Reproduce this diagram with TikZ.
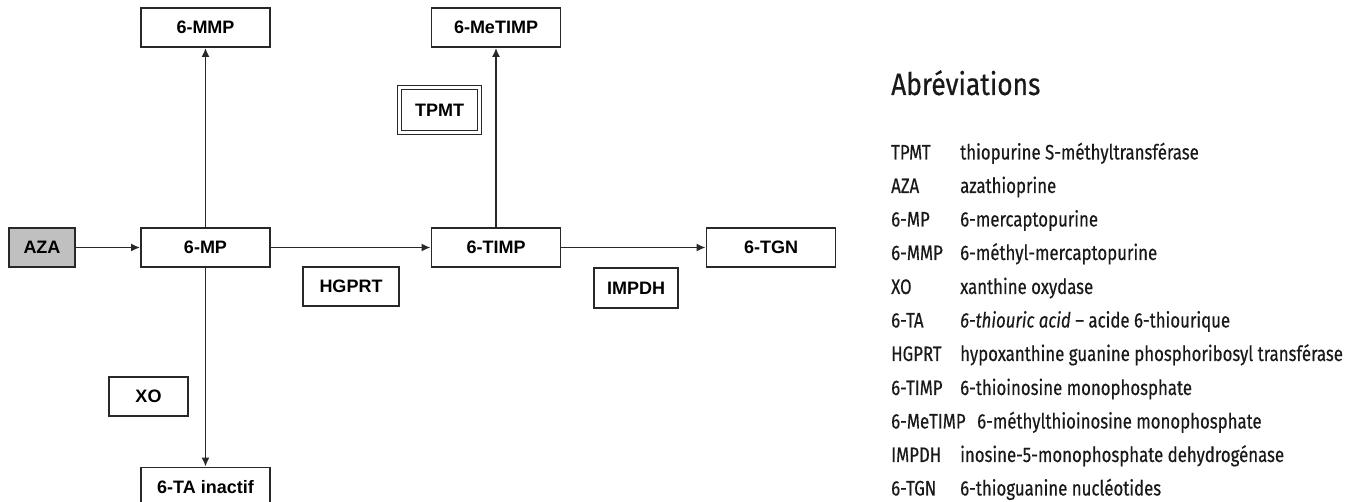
\documentclass[tikz,border=0pt]{standalone}
\usepackage{fontspec}
\setmainfont{Liberation Sans}
\newfontfamily\legendfont[FakeStretch=0.8, FakeBold=0.4]{Fira Sans}
\newfontfamily\titlefont[FakeStretch=0.85, FakeBold=0.5]{Fira Sans}
\usepackage{tikz}
\usetikzlibrary{arrows.meta}
\usepackage{xcolor}
\definecolor{azagray}{RGB}{192,192,192}
\definecolor{legendink}{RGB}{25,25,25}
\definecolor{boxline}{RGB}{40,40,40}

\tikzset{
  box/.style={draw=boxline, line width=1.8pt, minimum width=129pt, minimum height=39pt,
    inner sep=0pt, font=\bfseries\fontsize{18}{20}\selectfont},
  enzyme/.style={draw=boxline, line width=1.8pt, minimum height=39pt, inner sep=0pt,
    font=\bfseries\fontsize{18}{20}\selectfont},
  flow/.style={draw=boxline, line width=1.7pt, -{Latex[length=9pt,width=8pt]}},
  abbr/.style={anchor=base west, inner sep=0pt, text=legendink,
    font=\legendfont\fontsize{21}{24}\selectfont},
  legtitle/.style={anchor=base west, inner sep=0pt, text=legendink,
    font=\titlefont\fontsize{31}{34}\selectfont},
}

\begin{document}
\begin{tikzpicture}[x=1pt, y=-1pt]
  \clip (0,0) rectangle (1366,502);
  % metabolites
  \node[box, fill=azagray, minimum width=66pt] (aza) at (42,247.5) {AZA};
  \node[box] (mp) at (205.5,247.5) {6-MP};
  \node[box] (mmp) at (205.5,27.5) {6-MMP};
  \node[box] (ta) at (205.5,487) {6-TA inactif};
  \node[box] (timp) at (496,247.5) {6-TIMP};
  \node[box] (metimp) at (496,27.5) {6-MeTIMP};
  \node[box] (tgn) at (771,247.5) {6-TGN};
  % enzymes
  \node[enzyme, minimum width=96pt] (hgprt) at (351,286.5) {HGPRT};
  \node[enzyme, minimum width=84pt, minimum height=40pt] (impdh) at (636,288) {IMPDH};
  \node[enzyme, minimum width=79pt] (xo) at (148.5,396.5) {XO};
  \node[enzyme, line width=1.4pt, double, double distance=2.4pt,
    minimum width=80pt, minimum height=45pt] (tpmt) at (439.5,110) {TPMT};
  % pathways
  \draw[flow] (aza) -- (mp);
  \draw[flow] (mp) -- (mmp);
  \draw[flow] (mp) -- (ta);
  \draw[flow] (mp) -- (timp);
  \draw[flow] (timp) -- (metimp);
  \draw[flow] (timp) -- (tgn);
  % legend
  \node[legtitle] (abrev) at (891,95) {Abréviations};
  \node[abbr] (kTPMT) at (891,159.5) {TPMT};
  \node[abbr] (vTPMT) at (960,159.5) {thiopurine S-méthyltransférase};
  \node[abbr] (kAZA) at (891,193) {AZA};
  \node[abbr] (vAZA) at (960,193) {azathioprine};
  \node[abbr] (kMP) at (891,226.5) {6-MP};
  \node[abbr] (vMP) at (960,226.5) {6-mercaptopurine};
  \node[abbr] (kMMP) at (891,260) {6-MMP};
  \node[abbr] (vMMP) at (960,260) {6-méthyl-mercaptopurine};
  \node[abbr] (kXO) at (891,294) {XO};
  \node[abbr] (vXO) at (960,294) {xanthine oxydase};
  \node[abbr] (kTA) at (891,327.5) {6-TA};
  \node[abbr] (vTA) at (960,327.5) {\itshape 6-thiouric acid\upshape{} – acide 6-thiourique};
  \node[abbr] (kHGPRT) at (891,361) {HGPRT};
  \node[abbr] (vHGPRT) at (960,361) {hypoxanthine guanine phosphoribosyl transférase};
  \node[abbr] (kTIMP) at (891,395) {6-TIMP};
  \node[abbr] (vTIMP) at (960,395) {6-thioinosine monophosphate};
  \node[abbr] (kMeTIMP) at (891,428.5) {6-MeTIMP};
  \node[abbr] (vMeTIMP) at (977,428.5) {6-méthylthioinosine monophosphate};
  \node[abbr] (kIMPDH) at (891,462) {IMPDH};
  \node[abbr] (vIMPDH) at (960,462) {inosine-5-monophosphate dehydrogénase};
  \node[abbr] (kTGN) at (891,495.5) {6-TGN};
  \node[abbr] (vTGN) at (960,495.5) {6-thioguanine nucléotides};
\end{tikzpicture}
\end{document}
